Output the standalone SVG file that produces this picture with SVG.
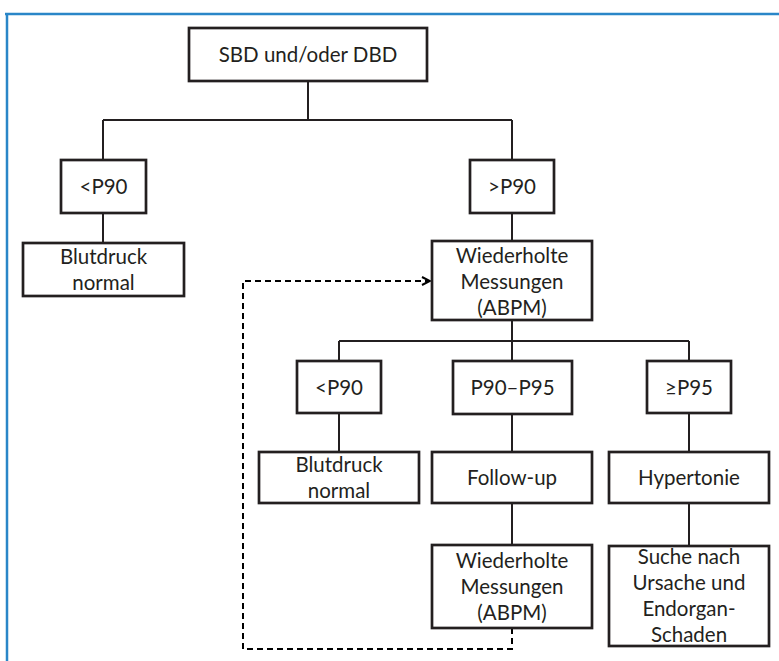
<svg xmlns="http://www.w3.org/2000/svg" width="779" height="661" viewBox="0 0 779 661">
<defs>
<style>
.box{fill:#fff;stroke:#231f20;stroke-width:2.7}
.t{font-family:Lato,"Liberation Sans",sans-serif;font-size:20.5px;fill:#231f20;text-anchor:middle}
.c{fill:none;stroke:#231f20;stroke-width:2}
.d{fill:none;stroke:#000;stroke-width:2;stroke-dasharray:6 4}
</style>
<marker id="ah" viewBox="0 0 10 10" refX="9" refY="5" markerWidth="10" markerHeight="10" markerUnits="userSpaceOnUse" orient="auto">
<path d="M1,1 L9,5 L1,9" fill="none" stroke="#000" stroke-width="2"/>
</marker>
</defs>
<rect width="779" height="661" fill="#fff"/>
<g id="frame">
<path d="M5,14 H779" stroke="#2a86c8" stroke-width="2.5" fill="none"/>
<path d="M7,14 V661" stroke="#2a86c8" stroke-width="2.5" fill="none"/>
</g>
<g id="connectors">
<path class="c" d="M308,81 V120 M103,120 H512 M103,120 V160 M512,120 V160"/>
<path class="c" d="M103,213 V243 M512,213 V241"/>
<path class="c" d="M512,320 V361 M339,341 H689 M339,341 V361 M689,341 V361"/>
<path class="c" d="M339,413 V452 M512,414 V452 M689,413 V452"/>
<path class="c" d="M512,503 V545 M689,503 V546"/>
<path class="d" d="M512,628 V649 H243 V281 H430" marker-end="url(#ah)"/>
</g>
<g id="n1"><rect class="box" x="189" y="28" width="238" height="53"/><text class="t" x="308" y="61.5">SBD und/oder DBD</text></g>
<g id="n2"><rect class="box" x="61" y="160" width="85" height="53"/><text class="t" x="103.5" y="193.5">&lt;P90</text></g>
<g id="n3"><rect class="box" x="470" y="160" width="84" height="53"/><text class="t" x="512" y="193.5">&gt;P90</text></g>
<g id="n4"><rect class="box" x="23" y="243" width="161" height="53"/><text class="t" x="103.5" y="264">Blutdruck</text><text class="t" x="103.5" y="290">normal</text></g>
<g id="n5"><rect class="box" x="432" y="241" width="160" height="79"/><text class="t" x="512" y="262.5">Wiederholte</text><text class="t" x="512" y="288.5">Messungen</text><text class="t" x="512" y="314.5">(ABPM)</text></g>
<g id="n6"><rect class="box" x="297" y="361" width="84" height="52"/><text class="t" x="339" y="395">&lt;P90</text></g>
<g id="n7"><rect class="box" x="453" y="361" width="119" height="53"/><text class="t" x="512.5" y="395">P90–P95</text></g>
<g id="n8"><rect class="box" x="647" y="361" width="84" height="52"/><text class="t" x="689" y="395">≥P95</text></g>
<g id="n9"><rect class="box" x="259" y="452" width="160" height="51"/><text class="t" x="339" y="471.5">Blutdruck</text><text class="t" x="339" y="497.5">normal</text></g>
<g id="n10"><rect class="box" x="432" y="452" width="160" height="51"/><text class="t" x="512" y="485">Follow-up</text></g>
<g id="n11"><rect class="box" x="609" y="452" width="160" height="51"/><text class="t" x="689" y="485">Hypertonie</text></g>
<g id="n12"><rect class="box" x="432" y="545" width="160" height="83"/><text class="t" x="512" y="568">Wiederholte</text><text class="t" x="512" y="594">Messungen</text><text class="t" x="512" y="620">(ABPM)</text></g>
<g id="n13"><rect class="box" x="609" y="546" width="160" height="100"/><text class="t" x="689" y="564">Suche nach</text><text class="t" x="689" y="590">Ursache und</text><text class="t" x="689" y="616">Endorgan-</text><text class="t" x="689" y="641.5">Schaden</text></g>
</svg>
